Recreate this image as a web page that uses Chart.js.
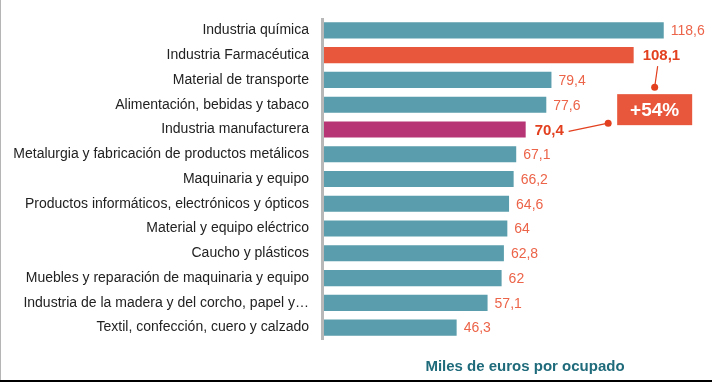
<!DOCTYPE html>
<html>
<head>
<meta charset="utf-8">
<script src="https://cdn.jsdelivr.net/npm/chart.js@4"></script>
<style>
html,body{margin:0;padding:0;background:#fff;}
#wrap{width:712px;height:382px;position:relative;}
</style>
</head>
<body>
<div id="wrap"><canvas id="c" width="712" height="382"></canvas></div>
<script>
const categories = [
  "Industria química",
  "Industria Farmacéutica",
  "Material de transporte",
  "Alimentación, bebidas y tabaco",
  "Industria manufacturera",
  "Metalurgia y fabricación de productos metálicos",
  "Maquinaria y equipo",
  "Productos informáticos, electrónicos y ópticos",
  "Material y equipo eléctrico",
  "Caucho y plásticos",
  "Muebles y reparación de maquinaria y equipo",
  "Industria de la madera y del corcho, papel y…",
  "Textil, confección, cuero y calzado"
];
const values = [118.6, 108.1, 79.4, 77.6, 70.4, 67.1, 66.2, 64.6, 64, 62.8, 62, 57.1, 46.3];
const valueLabels = ["118,6","108,1","79,4","77,6","70,4","67,1","66,2","64,6","64","62,8","62","57,1","46,3"];
const highlightIndex = 1;
const totalIndex = 4;
const calloutText = "+54%";
const axisTitle = "Miles de euros por ocupado";

const TEAL = "#5a9dac", RED = "#e8573c", MAGENTA = "#b73575";
const barColors = categories.map((c, i) => i === highlightIndex ? RED : (i === totalIndex ? MAGENTA : TEAL));
const FONT = "'Liberation Sans', Arial, Helvetica, sans-serif";

const deco = {
  id: 'deco',
  beforeDatasetsDraw(chart) {
    const {ctx, chartArea} = chart;
    ctx.save();
    ctx.fillStyle = '#b8b8b8';
    ctx.fillRect(chartArea.left - 3, chartArea.top, 3, chartArea.bottom - chartArea.top);
    ctx.restore();
  },
  afterDatasetsDraw(chart) {
    const {ctx, chartArea} = chart;
    const meta = chart.getDatasetMeta(0);
    ctx.save();
    ctx.textBaseline = 'middle';
    ctx.textAlign = 'left';
    meta.data.forEach((bar, i) => {
      const special = (i === highlightIndex || i === totalIndex);
      ctx.font = special ? "bold 15px " + FONT : "14px " + FONT;
      ctx.fillStyle = special ? '#e2401f' : '#ec6449';
      ctx.fillText(valueLabels[i], bar.x + (special ? 9 : 7), bar.y + 1);
    });
    // callout
    const hb = meta.data[highlightIndex];
    const tb = meta.data[totalIndex];
    const boxCx = hb.x + 21, boxTop = hb.y + 39, boxW = 75, boxH = 31;
    const dot1 = {x: boxCx, y: hb.y + 32};
    const dot2 = {x: boxCx - boxW / 2 - 9, y: boxTop + 29};
    ctx.strokeStyle = '#e2401f';
    ctx.fillStyle = '#e2401f';
    ctx.lineWidth = 1.2;
    ctx.beginPath();
    ctx.moveTo(hb.x + 24, hb.y + 11);
    ctx.lineTo(dot1.x, dot1.y);
    ctx.stroke();
    ctx.beginPath();
    ctx.moveTo(tb.x + 43, tb.y + 2);
    ctx.lineTo(dot2.x, dot2.y);
    ctx.stroke();
    ctx.beginPath(); ctx.arc(dot1.x, dot1.y, 3.5, 0, Math.PI * 2); ctx.fill();
    ctx.beginPath(); ctx.arc(dot2.x, dot2.y, 3.5, 0, Math.PI * 2); ctx.fill();
    ctx.fillStyle = RED;
    ctx.fillRect(boxCx - boxW / 2, boxTop, boxW, boxH);
    ctx.fillStyle = '#ffffff';
    ctx.font = "bold 19px " + FONT;
    ctx.textAlign = 'center';
    ctx.fillText(calloutText, boxCx, boxTop + boxH / 2 + 1);
    // axis title
    ctx.fillStyle = '#1f6b7b';
    ctx.font = "bold 15px " + FONT;
    ctx.textAlign = 'center';
    ctx.fillText(axisTitle, chartArea.left + 201, 367);
    // frame lines
    ctx.fillStyle = '#b5b5b5';
    ctx.fillRect(0, 0, 1, 380);
    ctx.fillStyle = '#000';
    ctx.fillRect(0, 380, 712, 2);
    ctx.restore();
  }
};

new Chart(document.getElementById('c'), {
  type: 'bar',
  data: {
    labels: categories,
    datasets: [{
      data: values,
      backgroundColor: barColors,
      borderWidth: 0,
      barPercentage: 0.65,
      categoryPercentage: 1.0
    }]
  },
  options: {
    indexAxis: 'y',
    responsive: false,
    animation: false,
    events: [],
    layout: {padding: {top: 18, bottom: 42, right: 7, left: 0}},
    plugins: {legend: {display: false}, tooltip: {enabled: false}},
    scales: {
      x: {
        min: 0, max: 133,
        display: false,
        grid: {display: false}
      },
      y: {
        grid: {display: false, drawTicks: false},
        border: {display: false},
        afterFit(scale) { scale.width = 324; scale.paddingTop = 0; scale.paddingBottom = 0; },
        ticks: {
          autoSkip: false,
          padding: 15,
          color: '#222222',
          font: {family: FONT, size: 14}
        }
      }
    }
  },
  plugins: [deco]
});
</script>
</body>
</html>
